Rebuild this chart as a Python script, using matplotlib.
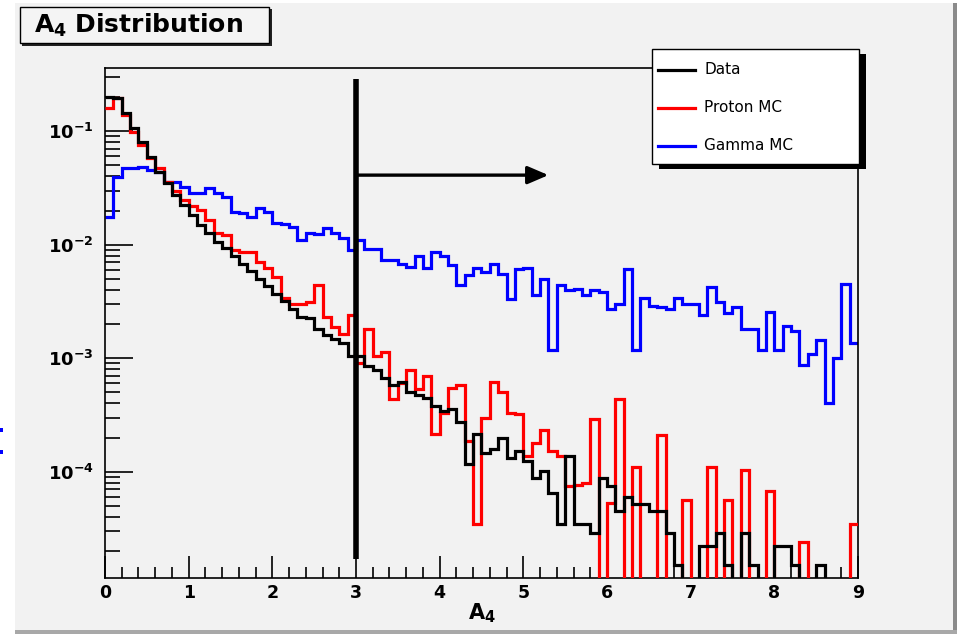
import matplotlib
matplotlib.use('Agg')
import matplotlib.pyplot as plt
import numpy as np
from matplotlib.patches import Rectangle
from matplotlib.lines import Line2D
from matplotlib.ticker import MultipleLocator, LogLocator, NullFormatter

plt.rcParams['font.family'] = 'DejaVu Sans'
plt.rcParams['mathtext.fontset'] = 'dejavusans'

# A4 histograms, 90 bins of width 0.1 between 0 and 9 (normalised counts)
bin_edges = np.linspace(0, 9, 91)

data_vals = [
    0.20, 0.195, 0.144, 0.106, 0.080, 0.059, 0.0435, 0.0348, 0.0272, 0.0222,
    0.0182, 0.0148, 0.0126, 0.0105, 0.0093, 0.0079, 0.0068, 0.0059, 0.0050, 0.0043,
    0.0037, 0.0032, 0.0027, 0.0023, 0.00224, 0.00182, 0.00161, 0.00149, 0.00135, 0.00105,
    0.00105, 0.00086, 0.00079, 0.00067, 0.000585, 0.00062, 0.00050, 0.00047, 0.00045, 0.00038,
    0.00034, 0.00036, 0.000275, 0.000117, 0.000216, 0.000147, 0.000159, 0.000199, 0.000133, 0.000153,
    0.000125, 8.8e-5, 1.02e-4, 6.5e-5, 3.5e-5, 1.38e-4, 3.5e-5, 3.5e-5, 2.9e-5, 8.8e-5,
    7.5e-5, 4.5e-5, 6.0e-5, 5.2e-5, 5.2e-5, 4.5e-5, 4.5e-5, 2.9e-5, 1.5e-5, 0,
    0, 2.2e-5, 2.2e-5, 2.9e-5, 1.5e-5, 0, 2.9e-5, 1.5e-5, 0, 0,
    2.2e-5, 2.2e-5, 1.5e-5, 0, 0, 1.5e-5, 0, 0, 0, 0,
]

proton_vals = [
    0.160, 0.195, 0.140, 0.099, 0.075, 0.058, 0.047, 0.036, 0.030, 0.0246,
    0.022, 0.0201, 0.0164, 0.0128, 0.0121, 0.0089, 0.0086, 0.0086, 0.0070, 0.0062,
    0.0052, 0.0034, 0.0030, 0.0030, 0.0031, 0.0044, 0.0023, 0.0019, 0.00165, 0.0024,
    0.00091, 0.0018, 0.00105, 0.00114, 0.00044, 0.00061, 0.00078, 0.00054, 0.00070, 0.000216,
    0.00033, 0.00055, 0.00058, 0.000188, 3.5e-5, 0.00030, 0.00062, 0.00050, 0.00033, 0.00032,
    0.000138, 0.00018, 0.000234, 0.000153, 0.000138, 7.5e-5, 7.6e-5, 8.0e-5, 0.00029, 0,
    5.3e-5, 0.00044, 0, 0.00011, 0, 0, 0.00021, 0, 0, 5.65e-5,
    0, 0, 0.00011, 0, 5.65e-5, 0, 0.000104, 0, 0, 6.8e-5,
    0, 0, 0, 2.4e-5, 0, 0, 0, 0, 0, 3.5e-5,
]

gamma_vals = [
    0.0174, 0.0393, 0.0471, 0.0471, 0.0481, 0.0453, 0.0435, 0.0355, 0.0355, 0.0321,
    0.0284, 0.0284, 0.0314, 0.0284, 0.0261, 0.0193, 0.0189, 0.0174, 0.0209, 0.0193,
    0.0154, 0.0151, 0.0142, 0.0109, 0.0126, 0.0123, 0.0139, 0.0128, 0.0114, 0.0089,
    0.0109, 0.0091, 0.0091, 0.00726, 0.00726, 0.0067, 0.0063, 0.0079, 0.0062, 0.0086,
    0.0079, 0.0066, 0.0044, 0.0054, 0.0062, 0.0058, 0.0067, 0.0055, 0.0033, 0.0061,
    0.0062, 0.0036, 0.0050, 0.00117, 0.0044, 0.0040, 0.0041, 0.0036, 0.0040, 0.0038,
    0.00274, 0.0030, 0.0061, 0.00117, 0.0034, 0.0029, 0.0028, 0.00274, 0.00336, 0.0030,
    0.0030, 0.00238, 0.0042, 0.00316, 0.00252, 0.00285, 0.00182, 0.00182, 0.00119, 0.00258,
    0.00119, 0.00194, 0.00175, 0.00088, 0.0011, 0.00146, 0.0004, 0.00101, 0.00455, 0.00135,
]

series_names = ['Data', 'Proton MC', 'Gamma MC']
series_colors = ['black', 'red', 'blue']

cut_value = 3.0
arrow_end = 5.3
arrow_level = 0.041

W, H = 964, 640


def fx(px):
    return px / W


def fy(py):
    return 1 - py / H


def fig_rect(x0, y0, x1, y1, **kw):
    # rectangle given in pixel coordinates measured from the top-left corner
    r = Rectangle((fx(x0), fy(y1)), fx(x1) - fx(x0), fy(y0) - fy(y1),
                  transform=fig.transFigure, **kw)
    fig.add_artist(r)
    return r


fig = plt.figure(figsize=(W / 100, H / 100), dpi=100, facecolor='white')

# canvas background with a bevelled border
fig_rect(15, 3, 955, 632, facecolor='#f2f2f2', edgecolor='none', zorder=0)
fig_rect(953, 3, 957, 634, facecolor='#8a8a8a', edgecolor='none', zorder=0)
fig_rect(15, 630, 957, 634, facecolor='#a8a8a8', edgecolor='none', zorder=0)
fig_rect(0, 428, 3, 432, facecolor='blue', edgecolor='none')
fig_rect(0, 450, 3, 454, facecolor='blue', edgecolor='none')

ax = fig.add_axes([fx(105), fy(578), fx(858) - fx(105), fy(68) - fy(578)])
ax.set_facecolor('#f2f2f2')

for vals, col, z in [(gamma_vals, 'blue', 2), (proton_vals, 'red', 3), (data_vals, 'black', 4)]:
    v = np.array(vals, dtype=float)
    v = np.where(v > 0, v, 1e-8)  # empty bins drop to the bottom of the frame
    ax.stairs(v, bin_edges, color=col, lw=2.3, baseline=None, zorder=z)

ax.set_yscale('log')
ax.set_xlim(0, 9)
ax.set_ylim(1.16e-5, 0.36)

# cut line and arrow
ax.plot([cut_value, cut_value], [1.7e-5, 0.29], color='black', lw=4, solid_capstyle='butt', zorder=6)
ax.annotate('', xy=(arrow_end, arrow_level), xytext=(cut_value, arrow_level),
            arrowprops=dict(arrowstyle='-|>,head_length=0.7,head_width=0.3', color='black',
                            lw=2.4, mutation_scale=18, shrinkA=0, shrinkB=0), zorder=6)

for s in ax.spines.values():
    s.set_linewidth(1.2)

ax.set_xticks(range(10), labels=[str(i) for i in range(10)], fontweight='bold', fontsize=12.5)
ax.xaxis.set_minor_locator(MultipleLocator(0.2))
ax.tick_params(axis='x', which='major', direction='in', length=16, width=1.2, pad=4)
ax.tick_params(axis='x', which='minor', direction='in', length=8, width=1.2)

ax.set_yticks([1e-4, 1e-3, 1e-2, 1e-1],
              labels=[r'$\mathbf{10^{-4}}$', r'$\mathbf{10^{-3}}$', r'$\mathbf{10^{-2}}$', r'$\mathbf{10^{-1}}$'],
              fontsize=13)
ax.yaxis.set_minor_locator(LogLocator(base=10, subs=np.arange(2, 10)))
ax.yaxis.set_minor_formatter(NullFormatter())
ax.tick_params(axis='y', which='major', direction='in', length=20, width=1.2, pad=8)
ax.tick_params(axis='y', which='minor', direction='in', length=11, width=1.2)

ax.set_xlabel(r'$\mathbf{A_4}$', fontsize=15, labelpad=0)

# title box with shadow
fig_rect(22, 9, 272, 46, facecolor='#222222', edgecolor='none', zorder=5)
fig_rect(20, 7, 269, 43, facecolor='#f4f4f4', edgecolor='black', lw=1.0, zorder=6)
fig.text(fx(34), fy(25), r'$\mathbf{A_4\ Distribution}$', fontsize=18, va='center', ha='left', zorder=7)

# legend box with shadow
fig_rect(659, 54, 866, 169, facecolor='black', edgecolor='none', zorder=5)
fig_rect(652, 49, 859, 164, facecolor='white', edgecolor='black', lw=1.0, zorder=6)
for i, (name, col) in enumerate(zip(series_names, series_colors)):
    yy = 70 + 38 * i
    fig.add_artist(Line2D([fx(658), fx(695)], [fy(yy), fy(yy)], color=col, lw=2.3,
                          transform=fig.transFigure, zorder=7))
    fig.text(fx(704), fy(yy), name, fontsize=11, va='center', ha='left', zorder=7)

fig.savefig('out.png', dpi=100, facecolor=fig.get_facecolor())
